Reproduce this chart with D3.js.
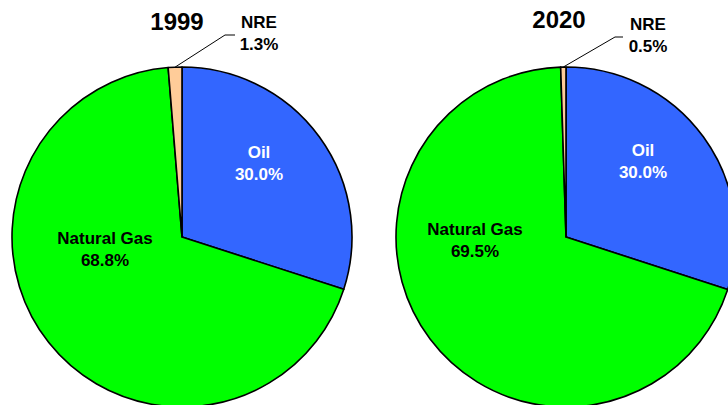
<!DOCTYPE html>
<html>
<head>
<meta charset="utf-8">
<script src="https://cdn.jsdelivr.net/npm/d3@7"></script>
<style>
  html, body { margin: 0; padding: 0; background: #fff; }
  svg { display: block; font-family: Arial, "Liberation Sans", sans-serif; }
</style>
</head>
<body>
<svg id="chart" width="728" height="405"></svg>
<script>
// Energy mix shares (%) by source
const categories = ["Oil", "Natural Gas", "NRE"];
const years = ["1999", "2020"];
const values1999 = [30.0, 68.8, 1.3];
const values2020 = [30.0, 69.5, 0.5];

const colors = { "Oil": "#3366FF", "Natural Gas": "#00FF00", "NRE": "#FFCC99" };

// Placement of each pie and of its labels (offsets from pie centre)
const panels = [
  { year: years[0], values: values1999, cx: 182, cy: 237,
    title: [-5, -207],
    inside: { "Oil": [77, -79], "Natural Gas": [-77, 7] },
    nre: { text: [77, -209], elbow: [43, -202], end: [53, -202] } },
  { year: years[1], values: values2020, cx: 566, cy: 237,
    title: [-7, -209],
    inside: { "Oil": [77, -81], "Natural Gas": [-91, -2] },
    nre: { text: [82, -207], elbow: [49, -200], end: [57, -200] } }
];

const radius = 170;
const svg = d3.select("#chart");
const pie = d3.pie().sort(null).value(d => d.value);
const arc = d3.arc().innerRadius(0).outerRadius(radius);

panels.forEach(p => {
  const data = categories.map((c, i) => ({ name: c, value: p.values[i] }));
  const g = svg.append("g").attr("transform", `translate(${p.cx},${p.cy})`);
  const arcs = pie(data);

  g.selectAll("path.slice")
    .data(arcs)
    .join("path")
    .attr("class", "slice")
    .attr("d", arc)
    .attr("fill", d => colors[d.data.name])
    .attr("stroke", "#000")
    .attr("stroke-width", 1.6)
    .attr("stroke-linejoin", "round");

  // Year title
  g.append("text")
    .attr("x", p.title[0]).attr("y", p.title[1])
    .attr("text-anchor", "middle")
    .attr("font-size", 24).attr("font-weight", "bold")
    .attr("fill", "#000")
    .text(p.year);

  // Labels inside the large slices
  arcs.filter(d => p.inside[d.data.name]).forEach(d => {
    const [x, y] = p.inside[d.data.name];
    const fill = d.data.name === "Oil" ? "#fff" : "#000";
    const t = g.append("text")
      .attr("text-anchor", "middle")
      .attr("font-size", 17).attr("font-weight", "bold")
      .attr("fill", fill);
    t.append("tspan").attr("x", x).attr("y", y).text(d.data.name);
    t.append("tspan").attr("x", x).attr("y", y + 22).text(d.data.value.toFixed(1) + "%");
  });

  // Small slice: label outside with a leader line
  const nreArc = arcs.find(d => d.data.name === "NRE");
  const mid = (nreArc.startAngle + nreArc.endAngle) / 2;
  const ox = Math.sin(mid) * radius, oy = -Math.cos(mid) * radius;
  g.append("polyline")
    .attr("points", [[ox, oy], p.nre.elbow, p.nre.end].map(pt => pt.join(",")).join(" "))
    .attr("fill", "none")
    .attr("stroke", "#000")
    .attr("stroke-width", 1);
  const nt = g.append("text")
    .attr("text-anchor", "middle")
    .attr("font-size", 17).attr("font-weight", "bold")
    .attr("fill", "#000");
  nt.append("tspan").attr("x", p.nre.text[0]).attr("y", p.nre.text[1]).text(nreArc.data.name);
  nt.append("tspan").attr("x", p.nre.text[0]).attr("y", p.nre.text[1] + 22).text(nreArc.data.value.toFixed(1) + "%");
});
</script>
</body>
</html>
